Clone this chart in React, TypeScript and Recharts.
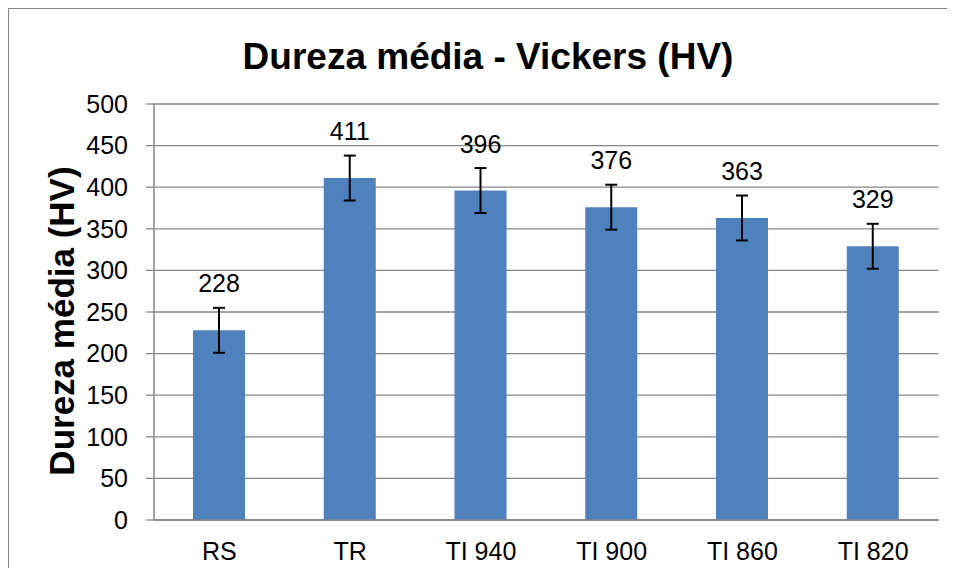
import { BarChart, Bar, XAxis, YAxis, CartesianGrid, ErrorBar, LabelList } from "recharts";

const categories = ["RS", "TR", "TI 940", "TI 900", "TI 860", "TI 820"];
const hardness = [228, 411, 396, 376, 363, 329];
const deviation = [27, 27, 27, 27, 27, 27];
const yTicks = [0, 50, 100, 150, 200, 250, 300, 350, 400, 450, 500];

const data = categories.map((name, i) => ({ name, value: hardness[i], err: deviation[i] }));

const FONT = "'Liberation Sans', Arial, sans-serif";
const GRID = "#868686";

export default function App() {
  return (
    <div
      style={{
        position: "relative",
        width: 939,
        height: 560,
        boxSizing: "border-box",
        borderTop: `1px solid ${GRID}`,
        borderLeft: `1px solid ${GRID}`,
        background: "#fff",
        overflow: "hidden",
        fontFamily: FONT,
      }}
    >
      <BarChart
        width={938}
        height={559}
        data={data}
        margin={{ top: 95, right: 8.5, left: 0, bottom: 0 }}
      >
        <CartesianGrid vertical={false} stroke={GRID} strokeWidth={1.3} />
        <XAxis
          dataKey="name"
          height={48}
          tickLine={false}
          tickSize={0}
          tickMargin={22}
          axisLine={{ stroke: GRID, strokeWidth: 1.5 }}
          tick={{ fill: "#000", fontSize: 25, fontFamily: FONT }}
          interval={0}
        />
        <YAxis
          width={145}
          domain={[0, 500]}
          ticks={yTicks}
          interval={0}
          tickSize={8}
          tickMargin={18}
          tickLine={{ stroke: GRID, strokeWidth: 1.3 }}
          axisLine={{ stroke: GRID, strokeWidth: 1.5 }}
          tick={{ fill: "#000", fontSize: 25, fontFamily: FONT }}
        />
        <Bar dataKey="value" fill="#4F81BD" barSize={52} isAnimationActive={false}>
          <ErrorBar dataKey="err" direction="y" width={6} stroke="#000" strokeWidth={2} isAnimationActive={false} />
          <LabelList
            dataKey="value"
            position="top"
            offset={38}
            fill="#000"
            fontSize={25}
            fontFamily={FONT}
          />
        </Bar>
      </BarChart>
      <svg
        width={938}
        height={559}
        style={{ position: "absolute", left: 0, top: 0, pointerEvents: "none" }}
      >
        <text
          x={479}
          y={60}
          textAnchor="middle"
          fontFamily={FONT}
          fontWeight="bold"
          fontSize={37}
          fill="#000"
        >
          Dureza média - Vickers (HV)
        </text>
        <text
          x={52}
          y={312}
          textAnchor="middle"
          dominantBaseline="central"
          transform="rotate(-90 52 312)"
          fontFamily={FONT}
          fontWeight="bold"
          fontSize={35}
          fill="#000"
        >
          Dureza média (HV)
        </text>
      </svg>
    </div>
  );
}
